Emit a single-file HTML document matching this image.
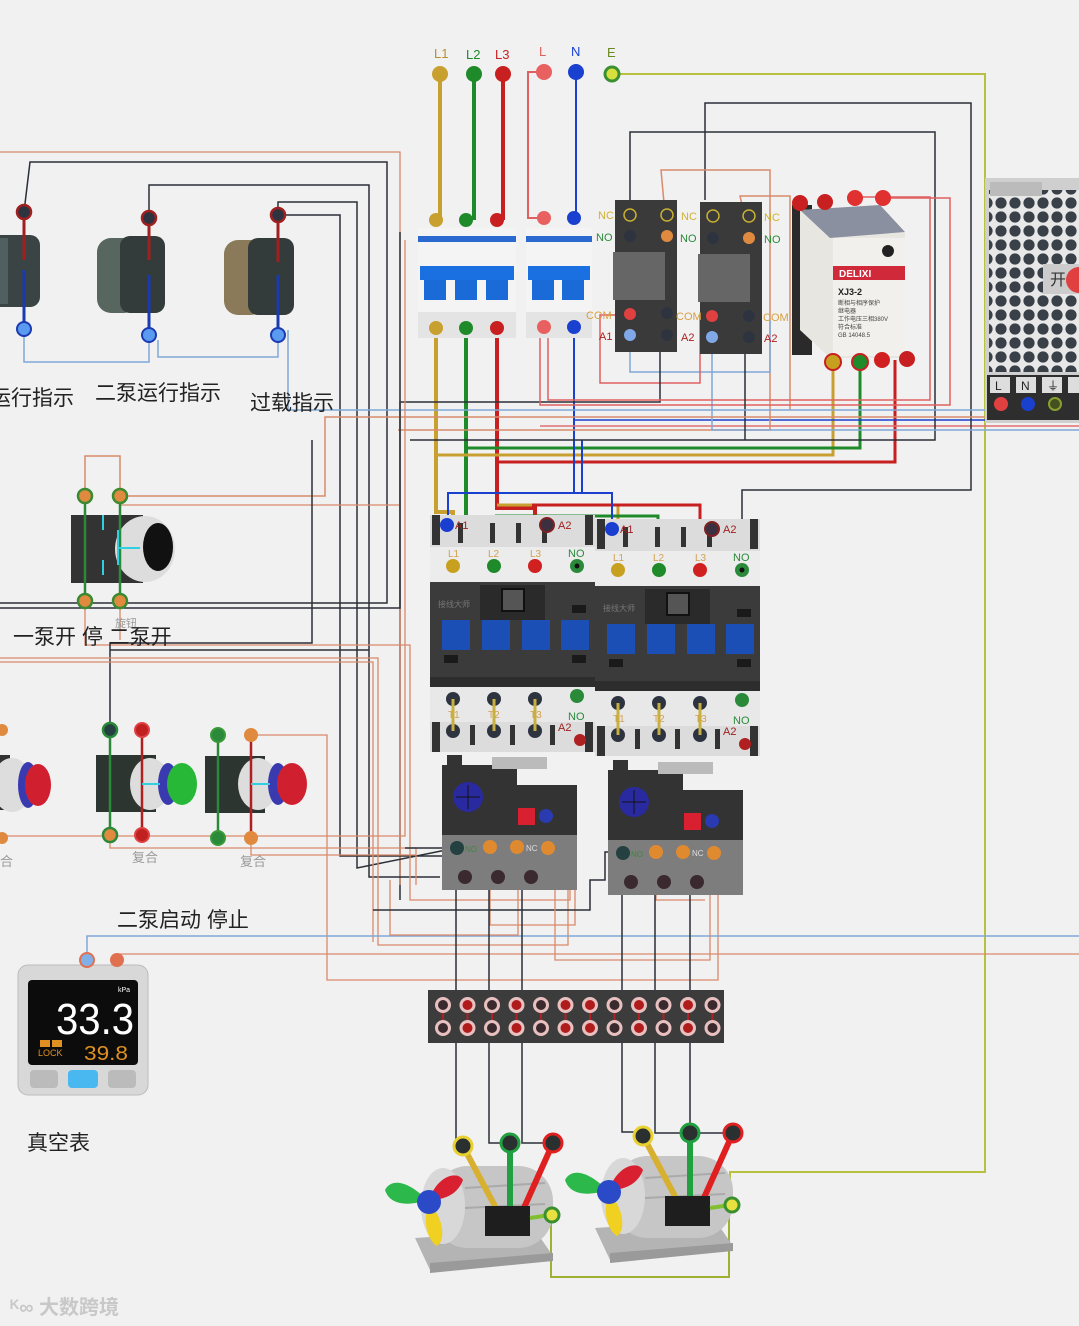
<!DOCTYPE html>
<html><head><meta charset="utf-8">
<style>
html,body{margin:0;padding:0;background:#f1f1f1;}
svg{display:block;}
text{font-family:"Liberation Sans","Noto Sans CJK SC",sans-serif;}
</style></head>
<body>
<svg width="1079" height="1326" viewBox="0 0 1079 1326" xmlns="http://www.w3.org/2000/svg">
<defs>
<pattern id="hex" width="14" height="14" patternUnits="userSpaceOnUse">
<rect width="14" height="14" fill="#e8e8e8"/><circle cx="7" cy="7" r="5.6" fill="#3a4048"/>
</pattern>
<g id="contactor">
 <rect x="0" y="0" width="165" height="32" fill="#dcdcdc"/>
 <rect x="2" y="0" width="8" height="30" fill="#333"/><rect x="155" y="0" width="8" height="30" fill="#333"/>
 <rect x="28" y="8" width="5" height="20" fill="#333"/><rect x="60" y="8" width="5" height="20" fill="#333"/><rect x="86" y="8" width="5" height="20" fill="#333"/><rect x="112" y="8" width="5" height="20" fill="#333"/>
 <rect x="0" y="32" width="165" height="35" fill="#ececec"/>
 <rect x="0" y="67" width="165" height="105" fill="#3b3b3b"/>
 <rect x="50" y="70" width="65" height="35" fill="#2a2a2a"/><rect x="72" y="74" width="22" height="22" fill="#555" stroke="#111" stroke-width="2"/>
 <rect x="12" y="105" width="28" height="30" fill="#1b4fb5"/><rect x="52" y="105" width="28" height="30" fill="#1b4fb5"/><rect x="92" y="105" width="28" height="30" fill="#1b4fb5"/><rect x="131" y="105" width="28" height="30" fill="#1b4fb5"/>
 <rect x="14" y="140" width="14" height="8" fill="#1a1a1a"/><rect x="142" y="140" width="14" height="8" fill="#1a1a1a"/><rect x="142" y="90" width="14" height="8" fill="#1a1a1a"/>
 <rect x="0" y="162" width="165" height="10" fill="#2d2d2d"/>
 <text x="8" y="92" font-size="8" fill="#777">接线大师</text>
 <rect x="0" y="172" width="165" height="35" fill="#e8e8e8"/>
 <rect x="0" y="207" width="165" height="30" fill="#dcdcdc"/>
 <rect x="2" y="207" width="8" height="30" fill="#333"/><rect x="155" y="207" width="8" height="30" fill="#333"/>
 <rect x="40" y="210" width="5" height="20" fill="#333"/><rect x="80" y="210" width="5" height="20" fill="#333"/><rect x="120" y="210" width="5" height="20" fill="#333"/>
 <circle cx="17" cy="10" r="7" fill="#1a3fd0"/><text x="25" y="14" font-size="11" fill="#a02020">A1</text>
 <circle cx="117" cy="10" r="7" fill="#3a3040" stroke="#802020" stroke-width="2"/><text x="128" y="14" font-size="11" fill="#a02020">A2</text>
 <circle cx="23" cy="51" r="7" fill="#c8a020"/><circle cx="64" cy="51" r="7" fill="#1f8a2a"/><circle cx="105" cy="51" r="7" fill="#d02020"/><circle cx="147" cy="51" r="7" fill="#2a8a3a"/><circle cx="147" cy="51" r="2.5" fill="#111"/>
 <text x="18" y="42" font-size="10" fill="#d4a050">L1</text><text x="58" y="42" font-size="10" fill="#d4a050">L2</text><text x="100" y="42" font-size="10" fill="#d4a050">L3</text><text x="138" y="42" font-size="11" fill="#2a8a3a">NO</text>
 <circle cx="23" cy="184" r="7" fill="#2d3440"/><circle cx="64" cy="184" r="7" fill="#2d3440"/><circle cx="105" cy="184" r="7" fill="#2d3440"/><circle cx="147" cy="181" r="7" fill="#2a8a3a"/>
 <text x="18" y="203" font-size="10" fill="#d4a050">T1</text><text x="58" y="203" font-size="10" fill="#d4a050">T2</text><text x="100" y="203" font-size="10" fill="#d4a050">T3</text><text x="138" y="205" font-size="11" fill="#2a8a3a">NO</text>
 <circle cx="23" cy="216" r="7" fill="#2d3440"/><circle cx="64" cy="216" r="7" fill="#2d3440"/><circle cx="105" cy="216" r="7" fill="#2d3440"/>
 <text x="128" y="216" font-size="11" fill="#a02020">A2</text><circle cx="150" cy="225" r="6" fill="#b02020"/>
 <line x1="23" y1="184" x2="23" y2="216" stroke="#c8b040" stroke-width="3"/><line x1="64" y1="184" x2="64" y2="216" stroke="#c8b040" stroke-width="3"/><line x1="105" y1="184" x2="105" y2="216" stroke="#c8b040" stroke-width="3"/>
</g>
<g id="thermal">
 <rect x="0" y="10" width="75" height="75" fill="#333"/><rect x="60" y="30" width="75" height="55" fill="#333"/>
 <rect x="5" y="0" width="15" height="12" fill="#333"/><rect x="50" y="2" width="55" height="12" fill="#bbb"/>
 <circle cx="26" cy="42" r="15" fill="#2a2aa0"/><line x1="14" y1="42" x2="38" y2="42" stroke="#111"/><line x1="26" y1="30" x2="26" y2="54" stroke="#111"/>
 <rect x="76" y="53" width="17" height="17" fill="#d82030"/><circle cx="104" cy="61" r="7" fill="#2a3ab0"/>
 <rect x="0" y="80" width="135" height="55" fill="#7d7d7d"/>
 <circle cx="15" cy="93" r="7" fill="#244040"/><text x="23" y="97" font-size="8" fill="#3a8a3a">NO</text>
 <circle cx="48" cy="92" r="7" fill="#e08a30"/><circle cx="75" cy="92" r="7" fill="#e08a30"/><text x="84" y="96" font-size="8" fill="#ddd">NC</text><circle cx="106" cy="93" r="7" fill="#e08a30"/>
 <circle cx="23" cy="122" r="7" fill="#3a2a30"/><circle cx="56" cy="122" r="7" fill="#3a2a30"/><circle cx="89" cy="122" r="7" fill="#3a2a30"/>
</g>
<g id="motor">
 <path d="M30,100 L150,92 L168,118 L45,132 Z" fill="#b4b4b4"/>
 <path d="M45,125 L168,115 L168,123 L45,135 Z" fill="#9a9a9a"/>
 <rect x="48" y="28" width="120" height="82" rx="35" fill="#c6c6c6"/>
 <line x1="80" y1="50" x2="160" y2="45" stroke="#aaa" stroke-width="2"/><line x1="80" y1="70" x2="160" y2="66" stroke="#aaa" stroke-width="2"/>
 <ellipse cx="58" cy="68" rx="22" ry="38" fill="#d8d8d8"/>
 <path d="M42,62 C20,40 5,42 0,52 C5,68 25,68 42,62Z" fill="#2cb84a"/>
 <path d="M44,62 C52,38 72,32 78,42 C72,58 57,62 44,62Z" fill="#d82030"/>
 <path d="M44,66 C57,76 62,102 52,108 C42,102 37,82 44,66Z" fill="#f0d020"/>
 <circle cx="44" cy="64" r="12" fill="#2a4ac8"/>
 <line x1="78" y1="8" x2="112" y2="72" stroke="#d8b030" stroke-width="6"/>
 <line x1="125" y1="5" x2="125" y2="72" stroke="#20a040" stroke-width="6"/>
 <line x1="168" y1="5" x2="138" y2="72" stroke="#e02020" stroke-width="6"/>
 <rect x="100" y="68" width="45" height="30" fill="#1e1e1e"/>
 <circle cx="78" cy="8" r="9" fill="#2a3030" stroke="#e8d030" stroke-width="3"/>
 <circle cx="125" cy="5" r="9" fill="#2a3030" stroke="#20a040" stroke-width="3"/>
 <circle cx="168" cy="5" r="9" fill="#2a3030" stroke="#e02020" stroke-width="3"/>
 <line x1="145" y1="80" x2="165" y2="77" stroke="#80c030" stroke-width="4"/>
 <circle cx="167" cy="77" r="7" fill="#e8e040" stroke="#3a9030" stroke-width="3"/>
</g>
<g id="tbd">
<circle cx="443" cy="1005" r="8" fill="#e8c0c0"/><circle cx="443" cy="1005" r="5" fill="#3a2a2e"/><circle cx="443" cy="1028" r="8" fill="#e8c0c0"/><circle cx="443" cy="1028" r="5" fill="#3a2a2e"/>
<line x1="443" y1="1013" x2="443" y2="1020" stroke="#b02020" stroke-width="2"/>
</g>
<g id="tbr">
<circle cx="443" cy="1005" r="8" fill="#e8c0c0"/><circle cx="443" cy="1005" r="5" fill="#b01c1c"/><circle cx="443" cy="1028" r="8" fill="#e8c0c0"/><circle cx="443" cy="1028" r="5" fill="#b01c1c"/>
<line x1="443" y1="1013" x2="443" y2="1020" stroke="#b02020" stroke-width="2"/>
</g>
</defs>

<!-- ===== WIRES ===== -->
<g fill="none" stroke-linejoin="miter">
<polyline points="612,74 985,74 985,1172 730,1172 730,1197" stroke="#b8c040" stroke-width="2"/>
<polyline points="551,1210 551,1277 729,1277 729,1197" stroke="#a0b030" stroke-width="2"/>
<line x1="440" y1="74" x2="440" y2="220" stroke="#c8a030" stroke-width="4"/>
<line x1="474" y1="74" x2="474" y2="220" stroke="#1f8a2a" stroke-width="4"/>
<line x1="503" y1="74" x2="503" y2="220" stroke="#c82020" stroke-width="4"/>
<polyline points="544,72 528,72 528,218 544,218" stroke="#e06060" stroke-width="2"/>
<line x1="576" y1="72" x2="576" y2="218" stroke="#1a40d0" stroke-width="2"/>
<polyline points="436,328 436,512 453,512 453,566" stroke="#c8a030" stroke-width="4"/>
<polyline points="466,328 466,560 453,560" stroke="#1f8a2a" stroke-width="4"/>
<polyline points="497,328 497,508 535,508 535,566" stroke="#c82020" stroke-width="4"/>
<polyline points="436,455 833,455 833,360" stroke="#c8a030" stroke-width="3"/>
<polyline points="466,448 860,448 860,360" stroke="#1f8a2a" stroke-width="3"/>
<polyline points="497,462 895,462 895,360" stroke="#c82020" stroke-width="3"/>
<polyline points="497,505 618,505 618,566" stroke="#c8a030" stroke-width="3"/>
<polyline points="495,516 658,516 658,566" stroke="#1f8a2a" stroke-width="3"/>
<polyline points="532,505 700,505 700,566" stroke="#c82020" stroke-width="3"/>
<polyline points="574,328 574,493 612,493 612,529" stroke="#1a40d0" stroke-width="2"/>
<polyline points="448,525 448,493 582,493 582,440" stroke="#1a40d0" stroke-width="2"/>
<line x1="574" y1="420" x2="1079" y2="420" stroke="#1a40d0" stroke-width="1.5"/>
<line x1="540" y1="426" x2="1079" y2="426" stroke="#e07070" stroke-width="1.5"/>
<polyline points="630,200 630,132 935,132 935,440 410,440" stroke="#2b3038" stroke-width="1.5"/>
<polyline points="705,200 705,103 971,103 971,490 742,490 742,529" stroke="#2b3038" stroke-width="1.5"/>
<polyline points="667,236 661,170 770,170 770,430 398,430" stroke="#d98a6a" stroke-width="1.5"/>
<polyline points="749,236 740,196 790,196 790,410" stroke="#d98a6a" stroke-width="1.5"/>
<polyline points="630,335 630,372 770,372 770,320" stroke="#7fa8d8" stroke-width="1.5"/>
<polyline points="630,315 600,315 600,383 700,383 700,315" stroke="#e06060" stroke-width="1.5"/>
<polyline points="712,335 712,430 1079,430" stroke="#7fa8d8" stroke-width="1.5"/>
<polyline points="660,335 660,402 400,402 400,900" stroke="#2b3038" stroke-width="1.5"/>
<polyline points="855,197 930,197 930,400 548,400 548,330" stroke="#e06060" stroke-width="1.5"/>
<polyline points="882,198 950,198 950,405 540,405 540,330" stroke="#e06060" stroke-width="1.5"/>
<polyline points="750,330 745,330 745,440" stroke="#2b3038" stroke-width="1.5"/>
<polyline points="0,152 400,152 400,885" stroke="#d98a6a" stroke-width="1.3"/>
<polyline points="24,212 30,162 387,162 387,603 0,603" stroke="#2b3038" stroke-width="1.5"/>
<polyline points="149,213 149,185 369,185 369,877 440,877" stroke="#2b3038" stroke-width="1.5"/>
<polyline points="278,215 278,202 357,202 357,868 456,848" stroke="#2b3038" stroke-width="1.5"/>
<polyline points="278,215 340,215 340,856 455,856" stroke="#2b3038" stroke-width="1.5"/>
<polyline points="24,330 24,362 149,362 149,330" stroke="#7fa8d8" stroke-width="1.5"/>
<polyline points="158,340 158,357 278,357 278,330" stroke="#7fa8d8" stroke-width="1.5"/>
<polyline points="288,330 288,410 1079,410" stroke="#7fa8d8" stroke-width="1.5"/>
<polyline points="85,496 85,456 120,456 120,496" stroke="#d98a6a" stroke-width="1.5"/>
<polyline points="120,496 325,496 325,417 1079,417" stroke="#d98a6a" stroke-width="1.5"/>
<polyline points="120,505 400,505" stroke="#d98a6a" stroke-width="1.3"/>
<polyline points="0,608 400,608 400,232" stroke="#2b3038" stroke-width="1.5"/>
<polyline points="85,601 85,645 410,645 410,900 570,900 570,880" stroke="#d98a6a" stroke-width="1.3"/>
<polyline points="120,601 120,640" stroke="#d98a6a" stroke-width="1.3"/>
<polyline points="110,730 110,643 312,643 312,440" stroke="#2b3038" stroke-width="1.5"/>
<polyline points="110,650 369,650" stroke="#2b3038" stroke-width="1.5"/>
<polyline points="0,658 378,658 378,945 568,945 568,875" stroke="#d98a6a" stroke-width="1.3"/>
<polyline points="0,662 373,662 373,942" stroke="#d98a6a" stroke-width="1.3"/>
<polyline points="251,735 327,735 327,980 718,980 718,876" stroke="#d98a6a" stroke-width="1.3"/>
<polyline points="0,836 405,836 405,240" stroke="#d98a6a" stroke-width="1.3"/>
<polyline points="110,835 110,848 416,848 416,885" stroke="#d98a6a" stroke-width="1.3"/>
<polyline points="251,835 251,855 416,855" stroke="#d98a6a" stroke-width="1.3"/>
<polyline points="87,960 87,936 1079,936" stroke="#7fa8d8" stroke-width="1.5"/>
<polyline points="117,960 117,954 1079,954" stroke="#d98a6a" stroke-width="1.3"/>
<polyline points="456,848 405,848" stroke="#2b3038" stroke-width="1.5"/>
<polyline points="490,847 490,925 575,925 575,847" stroke="#d98a6a" stroke-width="1.3"/>
<polyline points="518,847 518,935 390,935 390,880" stroke="#d98a6a" stroke-width="1.3"/>
<polyline points="623,852 605,852 605,880 590,880 590,910 373,910" stroke="#2b3038" stroke-width="1.5"/>
<polyline points="656,852 656,900 705,900" stroke="#d98a6a" stroke-width="1.3"/>
<polyline points="548,848 555,848 555,960 710,960 710,852" stroke="#d98a6a" stroke-width="1.3"/>
<polyline points="465,877 456,877 456,1005" stroke="#2b3038" stroke-width="1.5"/>
<polyline points="498,877 489,877 489,1005" stroke="#2b3038" stroke-width="1.5"/>
<polyline points="531,877 522,877 522,1005" stroke="#2b3038" stroke-width="1.5"/>
<polyline points="630,882 622,882 622,1005" stroke="#2b3038" stroke-width="1.5"/>
<polyline points="663,882 655,882 655,1005" stroke="#2b3038" stroke-width="1.5"/>
<polyline points="696,882 690,882 690,1005" stroke="#2b3038" stroke-width="1.5"/>
<polyline points="456,1028 456,1142 465,1142" stroke="#2b3038" stroke-width="1.5"/>
<polyline points="489,1028 489,1143 510,1143" stroke="#2b3038" stroke-width="1.5"/>
<polyline points="522,1028 522,1143 550,1143" stroke="#2b3038" stroke-width="1.5"/>
<polyline points="622,1028 622,1132 643,1132" stroke="#2b3038" stroke-width="1.5"/>
<polyline points="655,1028 655,1133 688,1133" stroke="#2b3038" stroke-width="1.5"/>
<polyline points="690,1028 690,1133 730,1133" stroke="#2b3038" stroke-width="1.5"/>
</g>

<!-- ===== TOP TERMINALS ===== -->
<g font-size="13">
<text x="434" y="58" fill="#b89030">L1</text><text x="466" y="59" fill="#1f8a2a">L2</text><text x="495" y="59" fill="#c82020">L3</text>
<text x="539" y="56" fill="#e06060">L</text><text x="571" y="56" fill="#1a40d0">N</text><text x="607" y="57" fill="#6a8a20">E</text>
</g>
<circle cx="440" cy="74" r="8" fill="#c8a030"/><circle cx="474" cy="74" r="8" fill="#1f8a2a"/><circle cx="503" cy="74" r="8" fill="#c82020"/>
<circle cx="544" cy="72" r="8" fill="#e86060"/><circle cx="576" cy="72" r="8" fill="#1a40d0"/><circle cx="612" cy="74" r="7" fill="#d8e040" stroke="#3a9030" stroke-width="3"/>

<!-- breakers -->
<rect x="418" y="228" width="98" height="110" fill="#f4f4f4"/>
<rect x="418" y="236" width="98" height="6" fill="#2a6ad0"/>
<rect x="420" y="266" width="94" height="14" fill="#1a70e0"/><rect x="424" y="280" width="22" height="20" fill="#1a6ad8"/><rect x="455" y="280" width="22" height="20" fill="#1a6ad8"/><rect x="486" y="280" width="22" height="20" fill="#1a6ad8"/>
<rect x="418" y="312" width="98" height="26" fill="#e4e4e4"/>
<rect x="526" y="228" width="66" height="110" fill="#f4f4f4"/>
<rect x="526" y="236" width="66" height="6" fill="#2a6ad0"/>
<rect x="528" y="266" width="62" height="14" fill="#1a70e0"/><rect x="532" y="280" width="22" height="20" fill="#1a6ad8"/><rect x="562" y="280" width="22" height="20" fill="#1a6ad8"/>
<rect x="526" y="312" width="66" height="26" fill="#e4e4e4"/>
<circle cx="436" cy="220" r="7" fill="#c8a030"/><circle cx="466" cy="220" r="7" fill="#1f8a2a"/><circle cx="497" cy="220" r="7" fill="#c82020"/>
<circle cx="544" cy="218" r="7" fill="#e86060"/><circle cx="574" cy="218" r="7" fill="#1a40d0"/>
<circle cx="436" cy="328" r="7" fill="#c8a030"/><circle cx="466" cy="328" r="7" fill="#1f8a2a"/><circle cx="497" cy="328" r="7" fill="#c82020"/>
<circle cx="544" cy="327" r="7" fill="#e86060"/><circle cx="574" cy="327" r="7" fill="#1a40d0"/>

<!-- relays -->
<g>
<rect x="615" y="200" width="62" height="152" fill="#3a3a3a"/><rect x="613" y="252" width="52" height="48" fill="#666"/>
<rect x="700" y="202" width="62" height="152" fill="#3a3a3a"/><rect x="698" y="254" width="52" height="48" fill="#666"/>
<circle cx="630" cy="215" r="6" fill="none" stroke="#c8b030" stroke-width="1.5"/><circle cx="667" cy="215" r="6" fill="none" stroke="#c8b030" stroke-width="1.5"/>
<circle cx="713" cy="216" r="6" fill="none" stroke="#c8b030" stroke-width="1.5"/><circle cx="749" cy="216" r="6" fill="none" stroke="#c8b030" stroke-width="1.5"/>
<circle cx="630" cy="236" r="6" fill="#2d3440"/><circle cx="667" cy="236" r="6" fill="#e08a40"/><circle cx="713" cy="238" r="6" fill="#2d3440"/><circle cx="749" cy="238" r="6" fill="#e08a40"/>
<circle cx="630" cy="314" r="6" fill="#e04040"/><circle cx="667" cy="313" r="6" fill="#2d3440"/><circle cx="712" cy="316" r="6" fill="#e04040"/><circle cx="749" cy="316" r="6" fill="#2d3440"/>
<circle cx="630" cy="335" r="6" fill="#80a8e8"/><circle cx="667" cy="335" r="6" fill="#2d3440"/><circle cx="712" cy="337" r="6" fill="#80a8e8"/><circle cx="749" cy="337" r="6" fill="#2d3440"/>
<g font-size="11"><text x="598" y="219" fill="#d0b030">NC</text><text x="596" y="241" fill="#2a8a3a">NO</text><text x="586" y="319" fill="#d8a040">COM</text><text x="599" y="340" fill="#b02020">A1</text>
<text x="681" y="220" fill="#d0b030">NC</text><text x="680" y="242" fill="#2a8a3a">NO</text><text x="676" y="320" fill="#d8a040">COM</text><text x="681" y="341" fill="#b02020">A2</text>
<text x="764" y="221" fill="#d0b030">NC</text><text x="764" y="243" fill="#2a8a3a">NO</text><text x="763" y="321" fill="#d8a040">COM</text><text x="764" y="342" fill="#b02020">A2</text></g>
</g>

<!-- DELIXI -->
<rect x="792" y="205" width="20" height="150" fill="#2a2a2a"/>
<path d="M800,210 L880,205 L905,232 L905,358 L830,358 L800,330 Z" fill="#e8e6e0"/>
<path d="M800,210 L880,205 L905,232 L830,238 Z" fill="#8a90a0"/>
<rect x="833" y="238" width="72" height="118" fill="#f2f0ec"/>
<rect x="833" y="266" width="72" height="14" fill="#d02a3a"/>
<text x="839" y="277" font-size="10" font-weight="bold" fill="#fff">DELIXI</text>
<text x="838" y="295" font-size="9" font-weight="bold" fill="#222">XJ3-2</text>
<text x="838" y="305" font-size="6" fill="#444">断相与相序保护</text><text x="838" y="313" font-size="6" fill="#444">继电器</text><text x="838" y="321" font-size="6" fill="#444">工作电压三相380V</text><text x="838" y="329" font-size="6" fill="#444">符合标准</text><text x="838" y="337" font-size="6" fill="#444">GB 14048.5</text>
<circle cx="888" cy="251" r="6" fill="#222"/>
<circle cx="800" cy="203" r="8" fill="#c82020"/><circle cx="825" cy="202" r="8" fill="#c82020"/><circle cx="855" cy="198" r="8" fill="#e03030"/><circle cx="883" cy="198" r="8" fill="#e03030"/>
<circle cx="833" cy="362" r="8" fill="#c8a020" stroke="#c82020" stroke-width="2"/><circle cx="860" cy="362" r="8" fill="#1f8a2a" stroke="#c82020" stroke-width="2"/><circle cx="882" cy="360" r="8" fill="#d02020"/><circle cx="907" cy="359" r="8" fill="#c82020"/>

<!-- power supply -->
<rect x="985" y="178" width="94" height="245" fill="#cfcfcf"/>
<rect x="989" y="190" width="90" height="182" fill="url(#hex)"/>
<rect x="990" y="182" width="52" height="14" fill="#bbb"/>
<rect x="1043" y="264" width="36" height="30" fill="#ccc"/><text x="1050" y="285" font-size="16" fill="#333">开</text>
<circle cx="1079" cy="280" r="13" fill="#e04040"/>
<rect x="987" y="375" width="92" height="45" fill="#2e2e2e"/>
<rect x="990" y="377" width="20" height="16" fill="#ddd"/><rect x="1016" y="377" width="20" height="16" fill="#ddd"/><rect x="1042" y="377" width="20" height="16" fill="#ddd"/><rect x="1068" y="377" width="11" height="16" fill="#ddd"/>
<text x="995" y="390" font-size="12" fill="#222">L</text><text x="1021" y="390" font-size="12" fill="#222">N</text><text x="1047" y="390" font-size="12" fill="#222">⏚</text>
<circle cx="1001" cy="404" r="7" fill="#e04040"/><circle cx="1028" cy="404" r="7" fill="#1a40d0"/><circle cx="1055" cy="404" r="6" fill="#445020" stroke="#88a030" stroke-width="2"/>

<!-- indicator lamps -->
<g>
<rect x="-10" y="235" width="50" height="72" rx="10" fill="#3a4444"/><rect x="-10" y="238" width="18" height="66" fill="#506060"/>
<rect x="97" y="238" width="40" height="75" rx="14" fill="#586660"/><rect x="120" y="236" width="45" height="77" rx="10" fill="#333b3b"/>
<rect x="224" y="240" width="40" height="75" rx="14" fill="#8a7a5a"/><rect x="248" y="238" width="46" height="77" rx="10" fill="#333b3b"/>
<line x1="24" y1="212" x2="24" y2="260" stroke="#a02020" stroke-width="3"/><line x1="24" y1="270" x2="24" y2="330" stroke="#1a3ab0" stroke-width="3"/>
<line x1="149" y1="218" x2="149" y2="260" stroke="#a02020" stroke-width="3"/><line x1="149" y1="275" x2="149" y2="335" stroke="#1a3ab0" stroke-width="3"/>
<line x1="278" y1="218" x2="278" y2="262" stroke="#a02020" stroke-width="3"/><line x1="278" y1="275" x2="278" y2="335" stroke="#1a3ab0" stroke-width="3"/>
<circle cx="24" cy="212" r="7" fill="#2d3440" stroke="#a02020" stroke-width="2.5"/><circle cx="149" cy="218" r="7" fill="#2d3440" stroke="#a02020" stroke-width="2.5"/><circle cx="278" cy="215" r="7" fill="#2d3440" stroke="#a02020" stroke-width="2.5"/>
<circle cx="24" cy="329" r="7" fill="#5a9af0" stroke="#1a3ab0" stroke-width="2"/><circle cx="149" cy="335" r="7" fill="#5a9af0" stroke="#1a3ab0" stroke-width="2"/><circle cx="278" cy="335" r="7" fill="#5a9af0" stroke="#1a3ab0" stroke-width="2"/>
</g>
<g font-size="21" fill="#222">
<text x="-10" y="405">运行指示</text><text x="95" y="400">二泵运行指示</text><text x="250" y="410">过载指示</text>
</g>

<!-- rotary switch -->
<rect x="71" y="515" width="72" height="68" fill="#333"/>
<ellipse cx="145" cy="549" rx="30" ry="33" fill="#ddd"/>
<ellipse cx="158" cy="547" rx="15" ry="24" fill="#111"/>
<line x1="85" y1="496" x2="85" y2="601" stroke="#2a8a3a" stroke-width="2.5"/><line x1="120" y1="496" x2="120" y2="601" stroke="#2a8a3a" stroke-width="2.5"/>
<line x1="103" y1="515" x2="103" y2="530" stroke="#30d0e0" stroke-width="2"/><line x1="103" y1="560" x2="103" y2="575" stroke="#30d0e0" stroke-width="2"/>
<line x1="118" y1="530" x2="118" y2="565" stroke="#30d0e0" stroke-width="2"/><line x1="118" y1="548" x2="140" y2="548" stroke="#30d0e0" stroke-width="2"/>
<circle cx="85" cy="496" r="7" fill="#e08a40" stroke="#3a8a30" stroke-width="2.5"/><circle cx="120" cy="496" r="7" fill="#e08a40" stroke="#3a8a30" stroke-width="2.5"/>
<circle cx="85" cy="601" r="7" fill="#e08a40" stroke="#3a8a30" stroke-width="2.5"/><circle cx="120" cy="601" r="7" fill="#e08a40" stroke="#3a8a30" stroke-width="2.5"/>
<text x="115" y="627" font-size="11" fill="#999">旋钮</text>
<text x="13" y="644" font-size="21" fill="#222">一泵开 停 二泵开</text>

<!-- push buttons -->
<g>
<rect x="-10" y="755" width="20" height="55" fill="#333"/>
<ellipse cx="12" cy="785" rx="20" ry="27" fill="#ddd"/><ellipse cx="28" cy="785" rx="10" ry="23" fill="#3a3ab0"/><ellipse cx="38" cy="785" rx="13" ry="21" fill="#d02030"/>
<circle cx="2" cy="730" r="6" fill="#e08a40"/><circle cx="2" cy="838" r="6" fill="#e08a40"/>
<text x="0" y="866" font-size="13" fill="#999">合</text>

<rect x="96" y="755" width="60" height="57" fill="#2d3530"/>
<ellipse cx="150" cy="784" rx="20" ry="26" fill="#ddd"/><ellipse cx="168" cy="784" rx="10" ry="21" fill="#3a3ab0"/><ellipse cx="182" cy="784" rx="15" ry="21" fill="#28b838"/>
<line x1="110" y1="730" x2="110" y2="835" stroke="#2a8a3a" stroke-width="2.5"/><line x1="142" y1="730" x2="142" y2="835" stroke="#b02020" stroke-width="2.5"/>
<line x1="142" y1="784" x2="160" y2="784" stroke="#30d0e0" stroke-width="2"/>
<circle cx="110" cy="730" r="7" fill="#244040" stroke="#2a8a3a" stroke-width="2.5"/><circle cx="142" cy="730" r="7" fill="#c02020" stroke="#e04040" stroke-width="2"/>
<circle cx="110" cy="835" r="7" fill="#e08a40" stroke="#2a8a3a" stroke-width="2.5"/><circle cx="142" cy="835" r="7" fill="#c02020" stroke="#e04040" stroke-width="2"/>
<text x="132" y="862" font-size="13" fill="#999">复合</text>

<rect x="205" y="756" width="60" height="57" fill="#2d3530"/>
<ellipse cx="258" cy="784" rx="20" ry="26" fill="#ddd"/><ellipse cx="278" cy="784" rx="10" ry="21" fill="#3a3ab0"/><ellipse cx="292" cy="784" rx="15" ry="21" fill="#d02030"/>
<line x1="218" y1="735" x2="218" y2="838" stroke="#2a8a3a" stroke-width="2.5"/><line x1="251" y1="735" x2="251" y2="838" stroke="#b02020" stroke-width="2.5"/>
<line x1="251" y1="784" x2="270" y2="784" stroke="#30d0e0" stroke-width="2"/>
<circle cx="218" cy="735" r="7" fill="#2a8a3a" stroke="#3a9a3a" stroke-width="2"/><circle cx="251" cy="735" r="7" fill="#e08a40"/>
<circle cx="218" cy="838" r="7" fill="#2a8a3a" stroke="#3a9a3a" stroke-width="2"/><circle cx="251" cy="838" r="7" fill="#e08a40"/>
<text x="240" y="866" font-size="13" fill="#999">复合</text>
</g>
<text x="117" y="927" font-size="21" fill="#222">二泵启动 停止</text>

<!-- vacuum gauge -->
<rect x="18" y="965" width="130" height="130" rx="10" fill="#d8d8d8" stroke="#bbb"/>
<rect x="28" y="980" width="110" height="85" rx="4" fill="#0c0c0c"/>
<text x="118" y="992" font-size="7" fill="#fff">kPa</text>
<text x="56" y="1034" font-size="44" fill="#fff" font-family="Liberation Mono, monospace" textLength="78" lengthAdjust="spacingAndGlyphs">33.3</text>
<rect x="40" y="1040" width="10" height="7" fill="#e09020"/><rect x="52" y="1040" width="10" height="7" fill="#e09020"/>
<text x="38" y="1056" font-size="9" fill="#e09020">LOCK</text>
<text x="84" y="1060" font-size="20" fill="#e09020" font-family="Liberation Mono, monospace" textLength="44" lengthAdjust="spacingAndGlyphs">39.8</text>
<rect x="30" y="1070" width="28" height="18" rx="4" fill="#bbb"/><rect x="68" y="1070" width="30" height="18" rx="4" fill="#4ab8f0"/><rect x="108" y="1070" width="28" height="18" rx="4" fill="#bbb"/>
<circle cx="87" cy="960" r="7" fill="#80b0e8" stroke="#e07050" stroke-width="2"/><circle cx="117" cy="960" r="7" fill="#e07050"/>
<text x="27" y="1150" font-size="21" fill="#222">真空表</text>

<!-- contactors -->
<use href="#contactor" x="430" y="515"/>
<use href="#contactor" x="595" y="519"/>
<use href="#thermal" x="442" y="755"/>
<use href="#thermal" x="608" y="760"/>

<!-- terminal block -->
<rect x="428" y="990" width="296" height="53" fill="#3c3c3c"/>
<use href="#tbd" x="0"/><use href="#tbr" x="24.5"/><use href="#tbd" x="49"/><use href="#tbr" x="73.5"/>
<use href="#tbd" x="98"/><use href="#tbr" x="122.5"/><use href="#tbr" x="147"/><use href="#tbd" x="171.5"/>
<use href="#tbr" x="196"/><use href="#tbd" x="220.5"/><use href="#tbr" x="245"/><use href="#tbd" x="269.5"/>

<!-- motors -->
<use href="#motor" x="385" y="1138"/>
<use href="#motor" x="565" y="1128"/>

<text x="10" y="1314" font-size="20" fill="#c8c8c8" font-weight="bold">ᴷ∞ 大数跨境</text>
</svg>
</body></html>
